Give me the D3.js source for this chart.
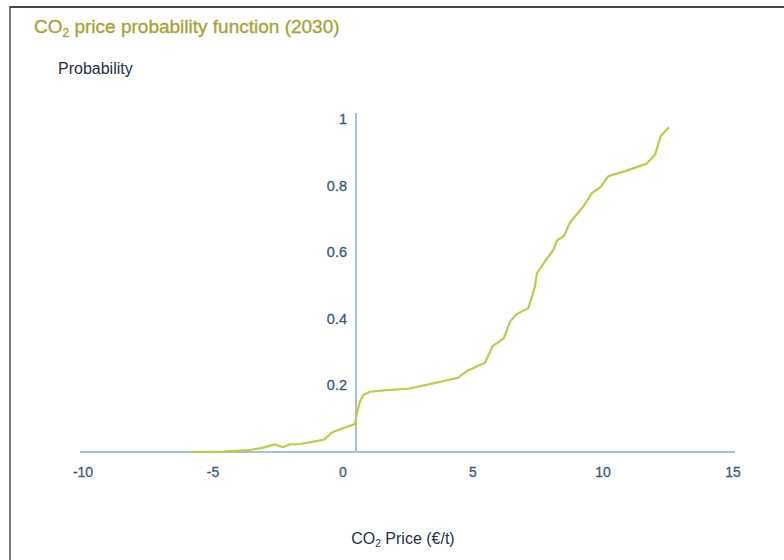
<!DOCTYPE html>
<html><head><meta charset="utf-8">
<script src="https://cdn.jsdelivr.net/npm/d3@7"></script>
<style>body{margin:0;background:#fff}svg{display:block}text{font-family:"Liberation Sans",Arial,sans-serif}</style>
</head><body><svg id="c" width="784" height="560"></svg>
<script>
const priceValues = [-5.88,-4.6,-3.58,-3.07,-2.62,-2.3,-2.04,-1.65,-1.14,-0.73,-0.43,-0.12,0.46,0.53,0.65,0.78,1.04,1.68,2.51,3.47,4.43,4.76,5.46,5.75,6.18,6.42,6.68,7.13,7.38,7.46,7.83,8.09,8.24,8.5,8.73,9.24,9.57,9.92,10.2,10.91,11.68,12.0,12.22,12.54];
const probValues = [0,0.001,0.006,0.013,0.023,0.014,0.023,0.024,0.031,0.037,0.058,0.068,0.084,0.116,0.151,0.171,0.181,0.186,0.19,0.206,0.223,0.243,0.268,0.317,0.341,0.391,0.414,0.432,0.496,0.537,0.579,0.607,0.636,0.649,0.689,0.737,0.777,0.797,0.828,0.845,0.866,0.893,0.949,0.975];
const xTicks = [-10,-5,0,5,10,15];
const yTicks = [0.2,0.4,0.6,0.8,1];
const yAxisCross = 0.5;

const svg = d3.select("#c");
const x = d3.scaleLinear().domain([-10,15]).range([83,733]);
const y = d3.scaleLinear().domain([0,1]).range([452,119]);
const axisCol = "#a9bfcc", tickCol = "#3e5874", lineCol = "#bccb4e";

// frame
svg.append("line").attr("x1",10).attr("x2",784).attr("y1",7).attr("y2",7).attr("stroke","#4a4a4a").attr("stroke-width",2);
svg.append("line").attr("x1",10).attr("x2",10).attr("y1",6).attr("y2",560).attr("stroke","#4a4a4a").attr("stroke-width",1.5);

// title
const t = svg.append("text").attr("x",34).attr("y",33).attr("fill","#a8a23a")
  .attr("stroke","#a8a23a").attr("stroke-width",0.35).style("font-size","19px");
t.append("tspan").text("CO");
t.append("tspan").text("2").style("font-size","12px").attr("dy",4);
t.append("tspan").text(" price probability function (2030)").attr("dy",-4);

svg.append("text").attr("x",58).attr("y",74).attr("fill","#1f3047").style("font-size","16px").text("Probability");

// axes
svg.append("line").attr("x1",x(-10)-3).attr("x2",x(15)+2).attr("y1",y(0)).attr("y2",y(0)).attr("stroke",axisCol).attr("stroke-width",2);
svg.append("line").attr("x1",x(yAxisCross)).attr("x2",x(yAxisCross)).attr("y1",y(1)-6).attr("y2",y(0)).attr("stroke",axisCol).attr("stroke-width",2);

svg.append("g").selectAll("text").data(xTicks).join("text")
  .attr("x",d=>x(d)).attr("y",477).attr("text-anchor","middle").attr("fill",tickCol)
  .attr("stroke",tickCol).attr("stroke-width",0.3).style("font-size","14px")
  .text(d=>d);
svg.append("g").selectAll("text").data(yTicks).join("text")
  .attr("x",347).attr("y",d=>y(d)+5).attr("text-anchor","end").attr("fill",tickCol)
  .attr("stroke",tickCol).attr("stroke-width",0.3).style("font-size","14.5px")
  .text(d=>d);

// curve
const pts = priceValues.map((v,i)=>[v,probValues[i]]);
svg.append("path").datum(pts)
  .attr("d",d3.line().x(d=>x(d[0])).y(d=>y(d[1])))
  .attr("fill","none").attr("stroke",lineCol).attr("stroke-width",2.2).attr("stroke-linejoin","round");

// x axis title
const xt = svg.append("text").attr("x",403).attr("y",544).attr("text-anchor","middle").attr("fill","#1f3047").style("font-size","16px");
xt.append("tspan").text("CO");
xt.append("tspan").text("2").style("font-size","10px").attr("dy",3);
xt.append("tspan").text(" Price (€/t)").attr("dy",-3);
</script></body></html>
